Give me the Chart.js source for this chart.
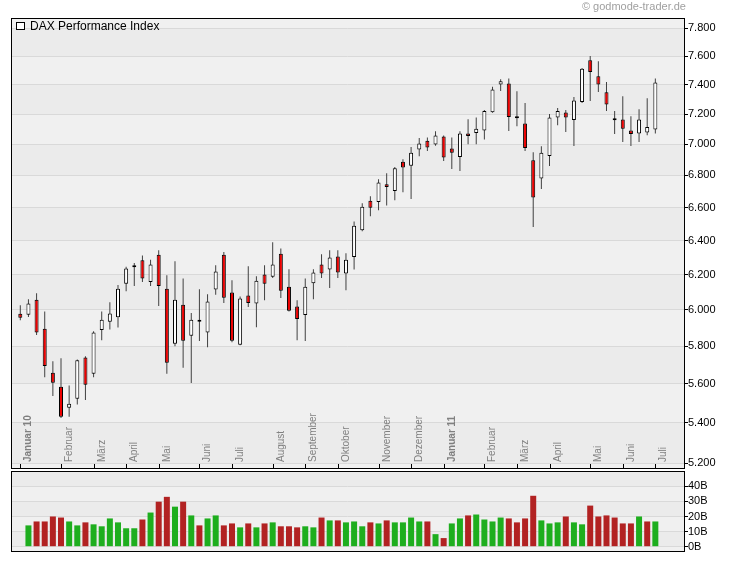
<!DOCTYPE html>
<html>
<head>
<meta charset="utf-8">
<script src="https://cdn.jsdelivr.net/npm/chart.js@4.4.1/dist/chart.umd.min.js"></script>
<style>
  body { margin: 0; background: #fff; width: 730px; height: 564px; position: relative; overflow: hidden; }
  #mainChart { position: absolute; left: 0; top: 0; }
  #volChart { position: absolute; left: 0; top: 462px; }
  .copy { position: absolute; right: 44px; top: 0; font: 11px "Liberation Sans", Arial, sans-serif; color: #a0a0a0; line-height: 13px; }
</style>
</head>
<body>
<canvas id="mainChart" width="730" height="476"></canvas>
<canvas id="volChart" width="730" height="102"></canvas>
<div class="copy">© godmode-trader.de</div>
<script>
// weekly DAX candles, Jan 2010 - Jul 2011
const opens  = [5978,5973,6057,5895,5659,5585,5477,5523,5740,5653,5888,5934,5959,6148,6243,6283,6157,6316,6119,5813,
                6029,5857,5940,5874,6114,6316,6097,5808,6081,6035,6200,6188,6322,6131,6018,5971,6151,6258,6229,6305,
                6206,6302,6461,6642,6634,6744,6702,6888,6862,6966,7024,6998,7051,6972,6918,7071,7074,7090,7213,7401,
                7408,7176,7137,6897,6780,6924,7177,7211,7161,7282,7570,7458,7348,7165,7163,7090,7071,7077,7097];
const highs  = [6025,6059,6093,5991,5719,5735,5592,5728,5746,5881,5991,6042,6140,6245,6267,6312,6287,6342,6196,6277,
                6177,5982,6116,6087,6255,6332,6167,6075,6248,6190,6254,6390,6352,6231,6053,6177,6231,6318,6342,6342,
                6324,6515,6626,6669,6776,6814,6854,6903,6983,7042,7045,7086,7057,7045,7086,7165,7177,7227,7385,7438,
                7443,7355,7275,6948,6987,7200,7240,7227,7316,7515,7600,7563,7419,7220,7320,7185,7233,7307,7443];
const lows   = [5942,5960,5861,5635,5537,5425,5431,5494,5516,5635,5832,5891,5902,6104,6134,6157,6134,6021,5653,5800,
                5685,5604,5828,5795,6085,6038,5821,5805,6016,5904,6053,6180,6066,5990,5832,5828,6060,6180,6123,6180,
                6111,6229,6455,6546,6583,6613,6644,6694,6652,6922,6957,6990,6892,6841,6828,7000,7000,7031,7209,7357,
                7087,7119,6957,6481,6714,6860,7125,7081,6989,7275,7289,7350,7220,7068,7015,6989,7015,7060,7071];
const closes = [5956,6035,5874,5694,5606,5431,5497,5724,5596,5875,5945,5980,6119,6235,6250,6177,6258,6134,5711,6057,
                5830,5945,5933,6046,6218,6068,5830,6063,6038,6165,6148,6258,6108,5995,5949,6131,6212,6206,6299,6212,
                6287,6489,6605,6599,6755,6727,6845,6850,6946,7005,6979,7057,6914,6946,7071,7055,7103,7220,7367,7424,
                7181,7172,6976,6661,6946,7177,7220,7177,7291,7511,7488,7401,7264,7158,7103,7068,7163,7114,7415];
// weekly volume in billions (first week has no bar)
const volumes = [null,14.1,16.7,16.7,20.0,19.3,16.7,14.1,16.1,14.8,13.5,18.7,16.1,12.2,12.2,18.0,22.6,29.8,33.0,26.5,
                 29.8,20.7,14.1,18.7,20.7,14.1,15.4,12.8,15.4,12.8,15.4,16.1,13.5,13.5,12.8,13.5,12.8,19.3,17.4,17.4,
                 16.1,16.7,13.5,16.1,15.4,17.4,16.1,16.1,19.3,16.7,16.7,8.3,5.7,15.4,18.7,20.7,21.3,18.0,16.7,19.3,
                 18.7,16.1,18.7,33.7,17.4,15.4,16.1,20.0,16.1,14.8,27.2,20.0,20.7,19.3,15.4,15.4,20.0,16.7,16.7];

const monthTicks  = [0, 5, 9, 13, 17, 22, 26, 31, 35, 39, 44, 48, 52, 57, 61, 65, 70, 74, 78];
const monthLabels = ['Januar 10', 'Februar', 'März', 'April', 'Mai', 'Juni', 'Juli', 'August', 'September',
                     'Oktober', 'November', 'Dezember', 'Januar 11', 'Februar', 'März', 'April', 'Mai', 'Juni', 'Juli'];
const priceTicks  = [5200, 5400, 5600, 5800, 6000, 6200, 6400, 6600, 6800, 7000, 7200, 7400, 7600, 7800];
const volumeTicks = [0, 10, 20, 30, 40];

const FONT = '"Liberation Sans", Arial, sans-serif';
Chart.defaults.font.family = FONT;
Chart.defaults.color = '#000';

const weeks = opens.map((o, i) => i);
const bodyColors = weeks.map(i => closes[i] < opens[i] ? '#ee0000' : '#ffffff');
const volColors = weeks.map(i => i > 0 && closes[i] < closes[i - 1] ? '#b22222' : '#1eae1e');

// 7800 -> "7.800"
function gerNum(v) {
  return Math.floor(v / 1000) + '.' + String(v % 1000).padStart(3, '0');
}

// striped background between the y ticks + black frame
const bandPlugin = {
  id: 'bands',
  beforeDraw(chart, args, opts) {
    const y = chart.scales.y, a = chart.chartArea, ctx = chart.ctx;
    const ticks = opts.ticks;
    ctx.save();
    ctx.fillStyle = '#f0f0f0';
    ctx.fillRect(a.left, a.top, a.right - a.left, a.bottom - a.top);
    ctx.fillStyle = '#ebebeb';
    ticks.forEach((t, j) => {
      if (j % 2) return;
      const y0 = y.getPixelForValue(t);
      const y1 = j + 1 < ticks.length ? y.getPixelForValue(ticks[j + 1]) : a.top;
      ctx.fillRect(a.left, y1, a.right - a.left, y0 - y1);
    });
    ctx.restore();
  },
  afterDraw(chart) {
    const a = chart.chartArea, ctx = chart.ctx;
    ctx.save();
    ctx.strokeStyle = '#000';
    ctx.lineWidth = 1;
    ctx.strokeRect(Math.round(a.left) + 0.5, Math.round(a.top) + 0.5,
                   Math.round(a.right - a.left), Math.round(a.bottom - a.top));
    ctx.restore();
  }
};

// month ticks and rotated labels inside the plot
const monthAxis = {
  id: 'monthAxis',
  afterDraw(chart) {
    const x = chart.scales.x, a = chart.chartArea, ctx = chart.ctx;
    ctx.save();
    monthTicks.forEach((idx, k) => {
      const px = Math.round(x.getPixelForValue(idx)) + 0.5;
      ctx.strokeStyle = '#000';
      ctx.lineWidth = 1;
      ctx.beginPath();
      ctx.moveTo(px, a.bottom - 4);
      ctx.lineTo(px, a.bottom);
      ctx.stroke();
      ctx.save();
      ctx.translate(px + 10, a.bottom - 6);
      ctx.rotate(-Math.PI / 2);
      ctx.font = (monthLabels[k].startsWith('Januar') ? 'bold ' : '') + '10px ' + FONT;
      ctx.fillStyle = '#808080';
      ctx.textAlign = 'left';
      ctx.textBaseline = 'alphabetic';
      ctx.fillText(monthLabels[k], 0, 0);
      ctx.restore();
    });
    ctx.restore();
  }
};

const legendBox = {
  id: 'legendBox',
  afterDraw(chart) {
    const a = chart.chartArea, ctx = chart.ctx;
    ctx.save();
    ctx.fillStyle = '#fff';
    ctx.strokeStyle = '#000';
    ctx.lineWidth = 1;
    ctx.fillRect(a.left + 5.5, a.top + 4.5, 8, 7);
    ctx.strokeRect(a.left + 5.5, a.top + 4.5, 8, 7);
    ctx.fillStyle = '#000';
    ctx.font = '12px ' + FONT;
    ctx.textBaseline = 'alphabetic';
    ctx.fillText(chart.data.datasets[0].label, a.left + 19, a.top + 12);
    ctx.restore();
  }
};

const xRange = { type: 'linear', min: -1.142, max: 81.52, offset: false, display: false };

new Chart(document.getElementById('mainChart'), {
  type: 'bar',
  data: {
    datasets: [
      {
        label: 'DAX Performance Index',
        data: weeks.map(i => ({ x: i, y: [opens[i], closes[i]] })),
        backgroundColor: bodyColors,
        borderColor: '#000',
        borderWidth: 1,
        borderSkipped: false,
        barThickness: 4,
        minBarLength: 2,
        inflateAmount: 0,
        grouped: false,
        order: 0
      },
      {
        label: 'Spanne',
        data: weeks.map(i => ({ x: i, y: [lows[i], highs[i]] })),
        backgroundColor: '#404040',
        borderWidth: 0,
        barThickness: 1,
        inflateAmount: 0,
        grouped: false,
        order: 1
      }
    ]
  },
  options: {
    responsive: false,
    animation: false,
    layout: { padding: { left: 11, top: 18, right: 0, bottom: 8 } },
    plugins: {
      legend: { display: false },
      tooltip: { enabled: false },
      bands: { ticks: priceTicks }
    },
    scales: {
      x: xRange,
      y: {
        type: 'logarithmic',
        position: 'right',
        min: 5178,
        max: 7874,
        afterBuildTicks: s => { s.ticks = priceTicks.map(v => ({ value: v })); },
        afterFit: s => { s.width = 46; },
        grid: { color: '#d9d9d9', tickColor: '#000', tickLength: 4 },
        border: { color: '#000' },
        ticks: { padding: 0, color: '#000', font: { size: 11 }, callback: v => gerNum(v) }
      }
    }
  },
  plugins: [bandPlugin, monthAxis, legendBox]
});

new Chart(document.getElementById('volChart'), {
  type: 'bar',
  data: {
    datasets: [{
      label: 'Volumen',
      data: weeks.map(i => ({ x: i, y: volumes[i] })),
      backgroundColor: volColors,
      borderWidth: 0,
      barThickness: 6,
      inflateAmount: 0
    }]
  },
  options: {
    responsive: false,
    animation: false,
    layout: { padding: { left: 11, top: 9, right: 0, bottom: 13 } },
    plugins: {
      legend: { display: false },
      tooltip: { enabled: false },
      bands: { ticks: volumeTicks }
    },
    scales: {
      x: xRange,
      y: {
        position: 'right',
        min: -2.85,
        max: 50.1,
        afterBuildTicks: s => { s.ticks = volumeTicks.map(v => ({ value: v })); },
        afterFit: s => { s.width = 46; },
        grid: { color: '#d9d9d9', tickColor: '#000', tickLength: 4 },
        border: { color: '#000' },
        ticks: { padding: 0, color: '#000', font: { size: 11 }, callback: v => v + 'B' }
      }
    }
  },
  plugins: [bandPlugin]
});
</script>
</body>
</html>
